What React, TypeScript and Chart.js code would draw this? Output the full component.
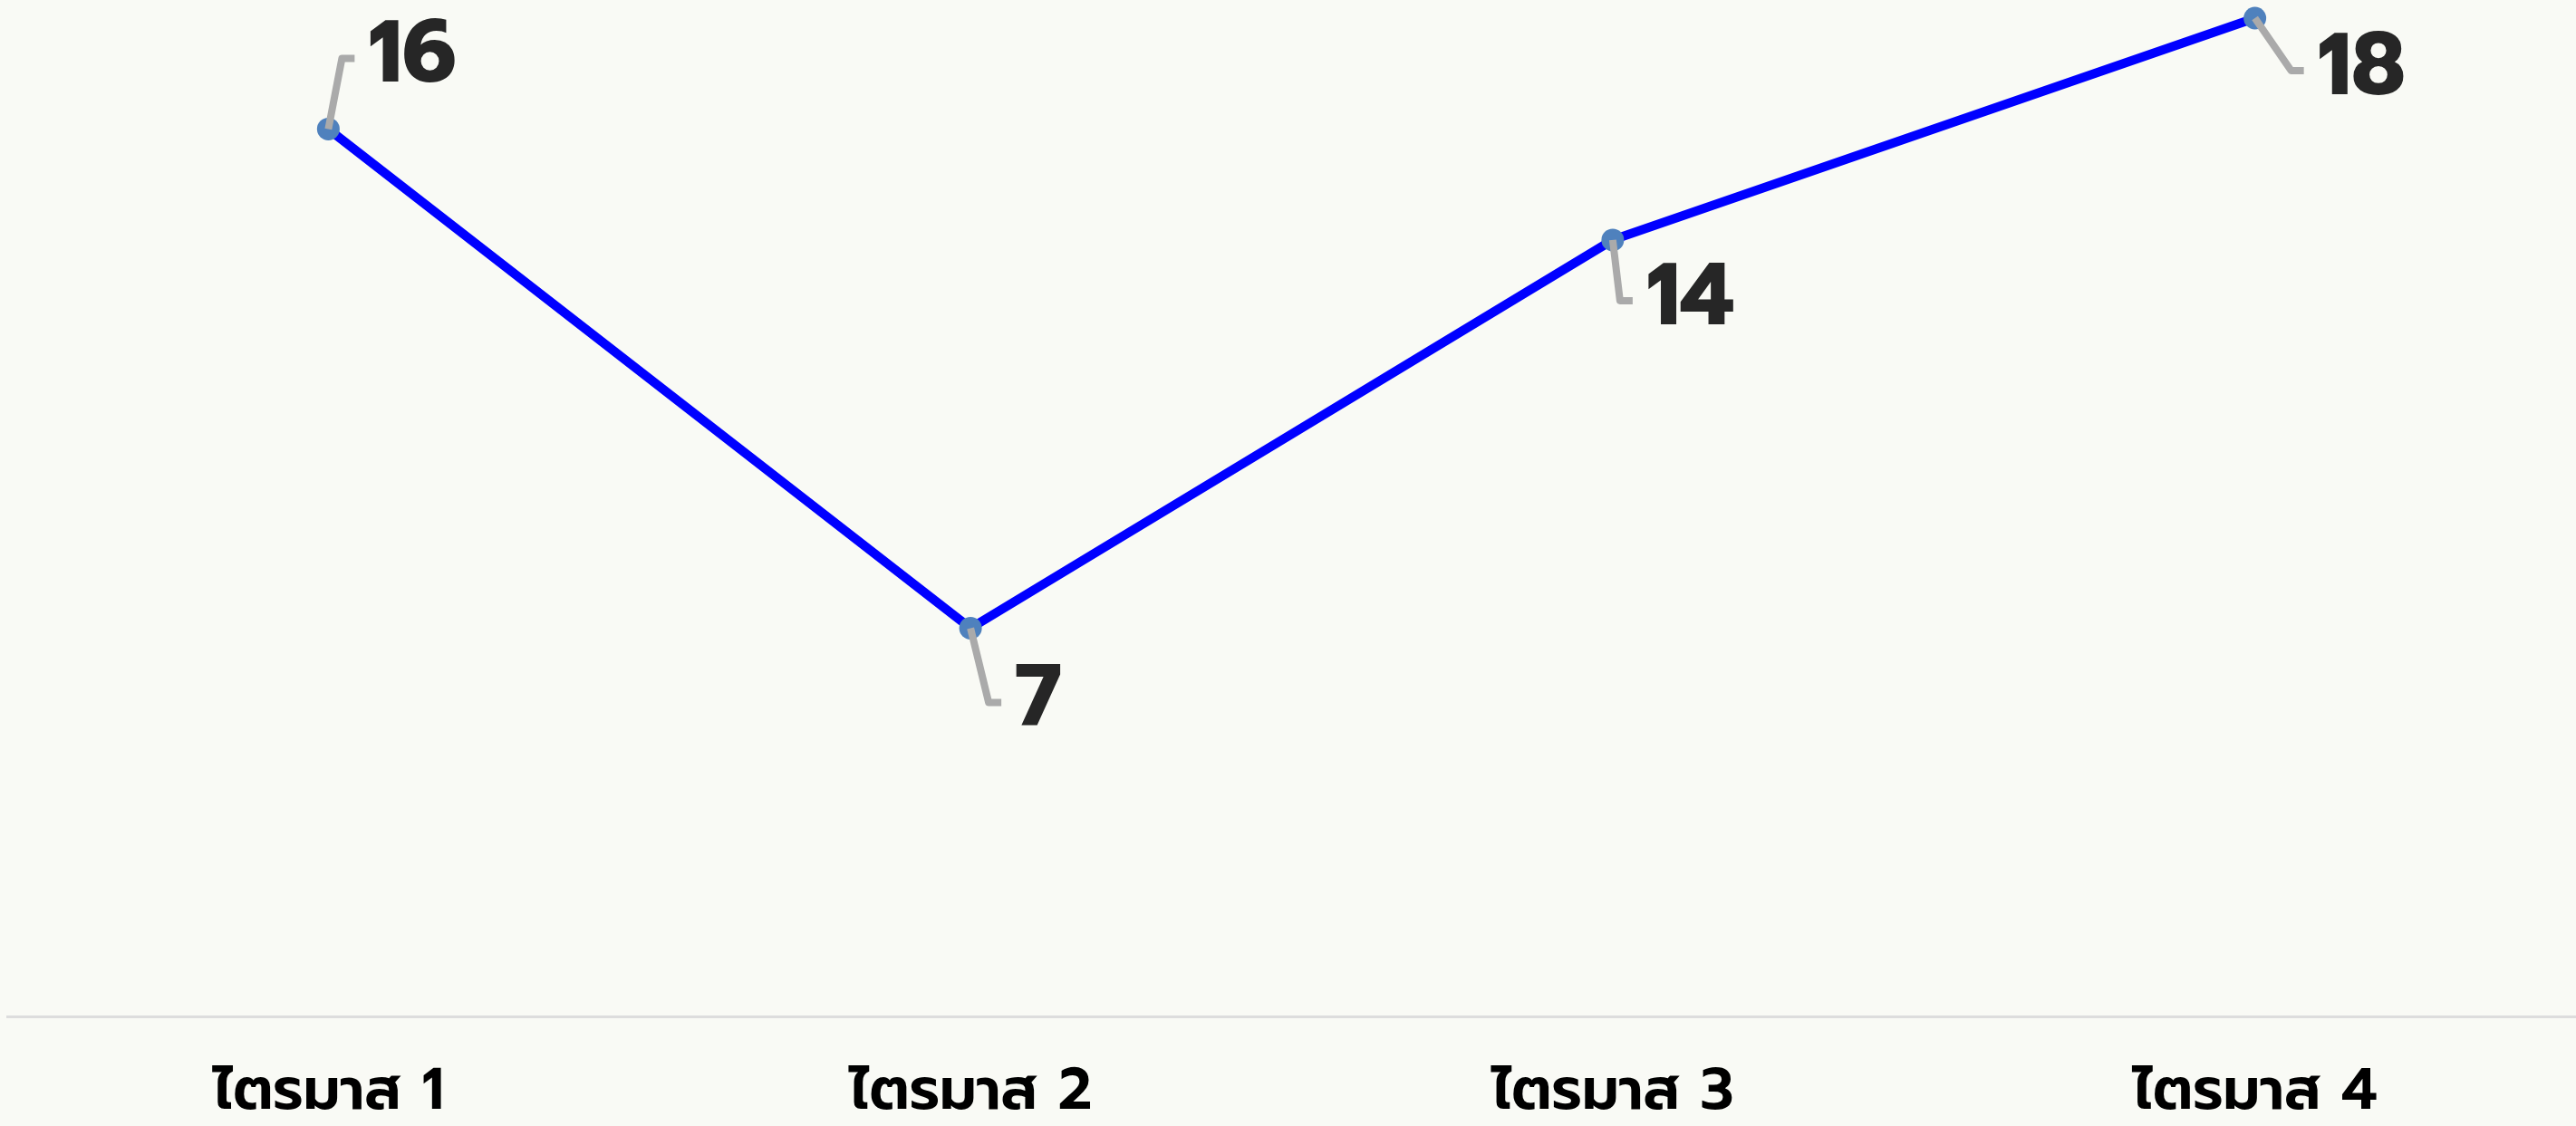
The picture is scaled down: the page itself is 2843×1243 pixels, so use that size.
import React, { useEffect, useRef } from "react";
import { Chart, registerables } from "chart.js";

Chart.register(...registerables);

const categories = ["ไตรมาส 1", "ไตรมาส 2", "ไตรมาส 3", "ไตรมาส 4"];
const values = [16, 7, 14, 18];
const yMin = 0;
const yMax = 18;

// style: leader-line elbow offsets from each point (pixels)
const leaderElbows = [
  { dx: 15, dy: -78 },
  { dx: 20, dy: 82 },
  { dx: 8, dy: 67 },
  { dx: 40, dy: 58 },
];

const BG = "#F9FAF5";
const FONT = "Prompt, Kanit, 'Noto Sans Thai', 'Noto Sans', sans-serif";
const W = 2843;
const H = 1243;

const bgPlugin = {
  id: "bgFill",
  beforeDraw(chart: any) {
    const { ctx, width, height } = chart;
    ctx.save();
    ctx.fillStyle = BG;
    ctx.fillRect(0, 0, width, height);
    ctx.restore();
  },
};

const labelPlugin = {
  id: "leaderLabels",
  afterDatasetsDraw(chart: any) {
    const { ctx } = chart;
    const meta = chart.getDatasetMeta(0);
    const ds = chart.data.datasets[0];
    meta.data.forEach((pt: any, i: number) => {
      const e = leaderElbows[i];
      const ex = pt.x + e.dx;
      const ey = pt.y + e.dy;
      ctx.save();
      ctx.strokeStyle = "#AAAAAA";
      ctx.lineWidth = 8;
      ctx.lineJoin = "round";
      ctx.lineCap = "butt";
      ctx.beginPath();
      ctx.moveTo(pt.x, pt.y);
      ctx.lineTo(ex, ey);
      ctx.lineTo(ex + 14, ey);
      ctx.stroke();
      ctx.fillStyle = "#262626";
      ctx.font = `bold 96px ${FONT}`;
      ctx.textAlign = "left";
      ctx.textBaseline = "middle";
      ctx.fillText(String(ds.data[i]), ex + 14 + 15, ey + 2);
      ctx.restore();
    });
  },
};

export default function App() {
  const ref = useRef<HTMLCanvasElement | null>(null);

  useEffect(() => {
    if (!ref.current) return;
    document.documentElement.style.overflow = "hidden";
    document.body.style.overflow = "hidden";
    const chart = new Chart(ref.current, {
      type: "line",
      data: {
        labels: categories,
        datasets: [
          {
            data: values,
            borderColor: "#0000FF",
            borderWidth: 10,
            pointRadius: 12.5,
            pointBorderWidth: 0,
            pointBackgroundColor: "#4F81BD",
            pointHoverRadius: 12.5,
            tension: 0,
            clip: false as any,
          },
        ],
      },
      options: {
        animation: false,
        responsive: false,
        devicePixelRatio: 1,
        layout: { autoPadding: false, padding: { left: 8, right: 0, top: 20, bottom: 0 } },
        plugins: {
          legend: { display: false },
          tooltip: { enabled: false },
        },
        scales: {
          x: {
            offset: true,
            grid: { display: false, drawTicks: false },
            border: { display: true, color: "#DDDDDD", width: 3 },
            ticks: {
              color: "#000000",
              padding: 54,
              font: { family: FONT, size: 64, weight: "600", lineHeight: 1.0 },
            },
            afterFit: (scale: any) => {
              scale.height = 121;
            },
          },
          y: {
            display: false,
            min: yMin,
            max: yMax,
          },
        },
      },
      plugins: [bgPlugin, labelPlugin],
    });
    return () => chart.destroy();
  }, []);

  return (
    <div
      style={{
        position: "absolute",
        left: 0,
        top: 0,
        width: W,
        height: H,
        overflow: "hidden",
        background: BG,
      }}
    >
      <canvas ref={ref} width={W} height={H} style={{ display: "block", width: W, height: H }} />
    </div>
  );
}
